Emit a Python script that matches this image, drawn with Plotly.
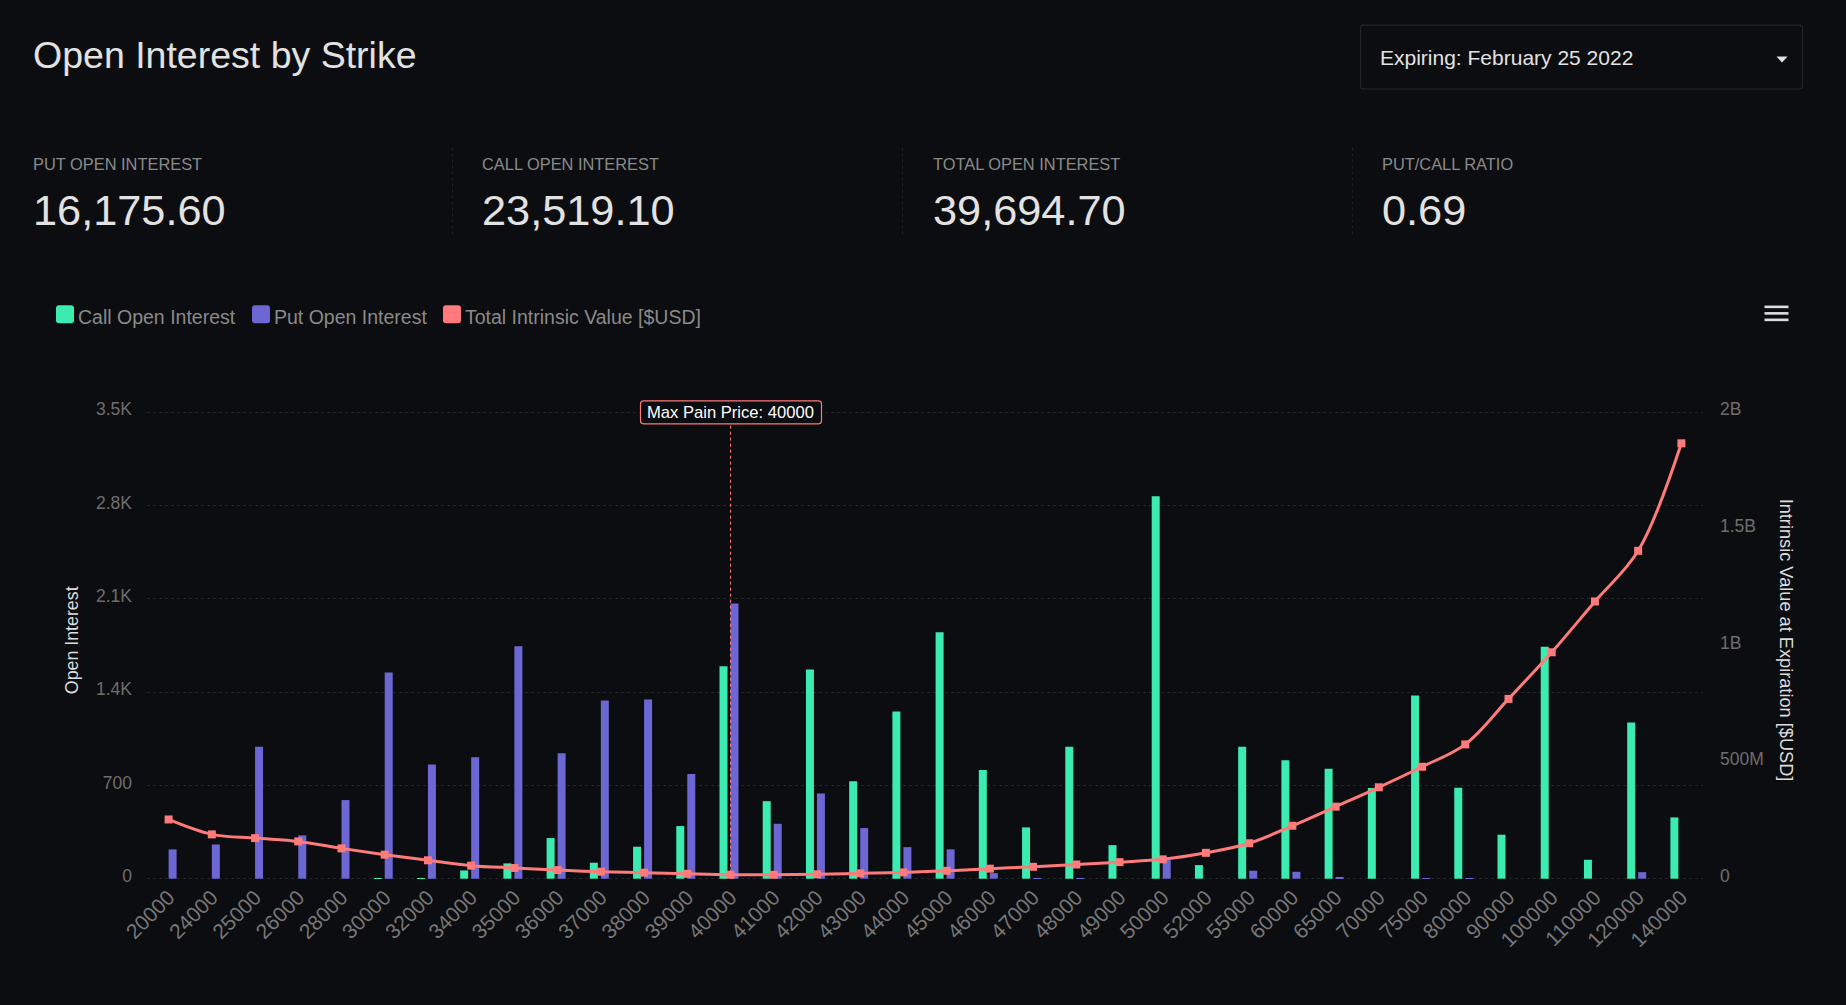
import plotly.graph_objects as go

strikes = ["20000","24000","25000","26000","28000","30000","32000","34000","35000","36000","37000","38000",
           "39000","40000","41000","42000","43000","44000","45000","46000","47000","48000","49000","50000",
           "52000","55000","60000","65000","70000","75000","80000","90000","100000","110000","120000","140000"]
call_oi = [0,0,0,0,0,5,5,62,115,305,120,240,
           395,1595,582,1570,732,1255,1850,815,385,990,252,2870,
           102,990,889,825,680,1375,683,330,1740,142,1172,460]
put_oi = [220,257,990,325,590,1547,857,912,1745,942,1337,1345,
          785,2065,412,640,380,237,220,42,5,5,0,140,
          0,60,52,6,0,5,5,0,0,0,49,0]
intrinsic_m = [254,190,174,160,130,103,79,56,46,37,30,26,
               21,17,17,19,23,27,34,43,51,61,71,83,
               111,152,227,309,392,480,576,771,971,1189,1406,1867]
left_ticks = [0,700,1400,2100,2800,3500]
left_labels = ["0","700","1.4K","2.1K","2.8K","3.5K"]
right_ticks = [0,500,1000,1500,2000]
right_labels = ["0","500M","1B","1.5B","2B"]
stat_labels = ["PUT OPEN INTEREST","CALL OPEN INTEREST","TOTAL OPEN INTEREST","PUT/CALL RATIO"]
stat_values = ["16,175.60","23,519.10","39,694.70","0.69"]
max_pain = "40000"

BG = "#0c0d10"
CALL = "#3cebb0"
PUT = "#6c67d2"
RED = "#ff7a7a"
FONT = "Liberation Sans"
W, H = 1846, 1005
L, R, T, B = 147, 1703, 410.7, 880
Y_TOP, Y_ZERO = 412.0, 878.7   # pixel rows of the 3.5K and 0 gridlines
ppu = (Y_ZERO - Y_TOP) / 3500
y_lo, y_hi = -(B - Y_ZERO) / ppu, 3500 + (Y_TOP - T) / ppu
y2_scale = 2000 / 3500

def px(x): return (x - L) / (R - L)
def py(y): return (B - y) / (B - T)

def rrect(x0, y0, x1, y1, r):
    a, b, c, d = px(x0), py(y0), px(x1), py(y1)
    rx, ry = r / (R - L), r / (B - T)
    return (f"M{a+rx},{b} L{c-rx},{b} Q{c},{b} {c},{b-ry} L{c},{d+ry} Q{c},{d} {c-rx},{d} "
            f"L{a+rx},{d} Q{a},{d} {a},{d+ry} L{a},{b-ry} Q{a},{b} {a+rx},{b} Z")

unit = 36 / (R - L)  # category units per pixel
fig = go.Figure()
fig.add_bar(x=strikes, y=call_oi, name="Call Open Interest", marker_color=CALL, marker_line_width=0,
            width=8 * unit, offset=-11 * unit, yaxis="y", showlegend=False)
fig.add_bar(x=strikes, y=put_oi, name="Put Open Interest", marker_color=PUT, marker_line_width=0,
            width=8 * unit, offset=0, yaxis="y", showlegend=False)
fig.add_scatter(x=strikes, y=intrinsic_m, name="Total Intrinsic Value [$USD]", yaxis="y2", mode="lines+markers",
                line=dict(color=RED, width=3, shape="spline", smoothing=1.0),
                marker=dict(symbol="square", size=8, color=RED), showlegend=False)

def text(s, x, y, size, color, anchor="left", angle=0):
    fig.add_annotation(text=s, x=px(x), y=py(y), xref="paper", yref="paper", showarrow=False,
                       xanchor=anchor, yanchor="middle", textangle=angle, borderpad=0, borderwidth=0,
                       font=dict(family=FONT, size=size, color=color))

shapes = []
text("Open Interest by Strike", 33, 54, 37.5, "#e2e2e2")
shapes.append(dict(type="path", path=rrect(1360.5, 24.5, 1802.5, 88.5, 3), xref="paper", yref="paper",
                   line=dict(color="#22252a", width=1.2), fillcolor="rgba(0,0,0,0)"))
text("Expiring: February 25 2022", 1379.5, 56.5, 21, "#e2e2e2")
shapes.append(dict(type="path", path=f"M{px(1776.5)},{py(56)} L{px(1787.5)},{py(56)} L{px(1782)},{py(62)} Z",
                   xref="paper", yref="paper", fillcolor="#e2e2e2", line_width=0))
stat_x = [33, 482, 933, 1382]
for sx, lab, val in zip(stat_x, stat_labels, stat_values):
    text(lab, sx, 164, 16.4, "#8a8a8a")
    text(val, sx, 210, 43.3, "#e2e2e2")
for dx in [452.5, 902.5, 1352.5]:
    shapes.append(dict(type="line", x0=px(dx), x1=px(dx), y0=py(147), y1=py(235), xref="paper", yref="paper",
                       line=dict(color="#1d2024", width=1, dash="dot")))
for x0, tx, lab, col in [(56, 78, "Call Open Interest", CALL), (252, 274, "Put Open Interest", PUT),
                         (443, 465, "Total Intrinsic Value [$USD]", RED)]:
    shapes.append(dict(type="path", path=rrect(x0, 305, x0 + 18, 323, 3), xref="paper", yref="paper",
                       fillcolor=col, line_width=0))
    text(lab, tx, 316.5, 19.5, "#8a8a8a")
for yy in [306.5, 313, 319.5]:
    shapes.append(dict(type="line", x0=px(1764.5), x1=px(1788.5), y0=py(yy), y1=py(yy), xref="paper", yref="paper",
                       line=dict(color="#dddddd", width=2.6)))
pain_idx = strikes.index(max_pain)
shapes.append(dict(type="line", x0=pain_idx, x1=pain_idx, y0=0, y1=3500, xref="x", yref="y",
                   line=dict(color=RED, width=1, dash="dot"), layer="above"))
shapes.append(dict(type="path", path=rrect(640.5, 400.5, 821.5, 423.5, 3), xref="paper", yref="paper",
                   fillcolor=BG, line=dict(color=RED, width=1.2), layer="above"))
fig.add_annotation(text="Max Pain Price: " + max_pain, x=pain_idx, y=3500, xref="x", yref="y", showarrow=False,
                   xanchor="center", yanchor="middle", borderpad=0,
                   font=dict(family=FONT, size=16.6, color="#ffffff"))
text("Open Interest", 72, 640, 17.8, "#dddddd", anchor="center", angle=-90)
text("Intrinsic Value at Expiration [$USD]", 1785.5, 640, 18.2, "#dddddd", anchor="center", angle=90)

fig.update_layout(
    width=W, height=H, paper_bgcolor=BG, plot_bgcolor=BG, barmode="overlay", showlegend=False,
    margin=dict(l=L, r=W - R, t=T, b=H - B, pad=0, autoexpand=False),
    font=dict(family=FONT), shapes=shapes,
    xaxis=dict(type="category", categoryorder="array", categoryarray=strikes, range=[-0.5, 35.5],
               tickmode="array", tickvals=strikes, ticktext=strikes, tickangle=-45,
               showgrid=False, zeroline=False, showline=False, ticks="",
               tickfont=dict(family=FONT, size=21, color="#777777")),
    yaxis=dict(range=[y_lo, y_hi], tickmode="array", tickvals=left_ticks, ticktext=left_labels,
               showgrid=True, gridcolor="#232528", griddash="dot", gridwidth=1, zeroline=False, showline=False,
               ticks="", ticklabelstandoff=14, ticklabelshift=-3,
               tickfont=dict(family=FONT, size=17.5, color="#6e6e6e")),
    yaxis2=dict(range=[y_lo * y2_scale, y_hi * y2_scale], overlaying="y", side="right", tickmode="array",
                tickvals=right_ticks, ticktext=right_labels, showgrid=False, zeroline=False, showline=False,
                ticks="", ticklabelstandoff=16, ticklabelshift=-3,
                tickfont=dict(family=FONT, size=17.5, color="#6e6e6e")),
)

fig.write_html("out.html", config={"displayModeBar": False},
               post_script=f"document.body.style.margin='0';document.body.style.background='{BG}';"
                           "document.documentElement.style.overflow='hidden';")
